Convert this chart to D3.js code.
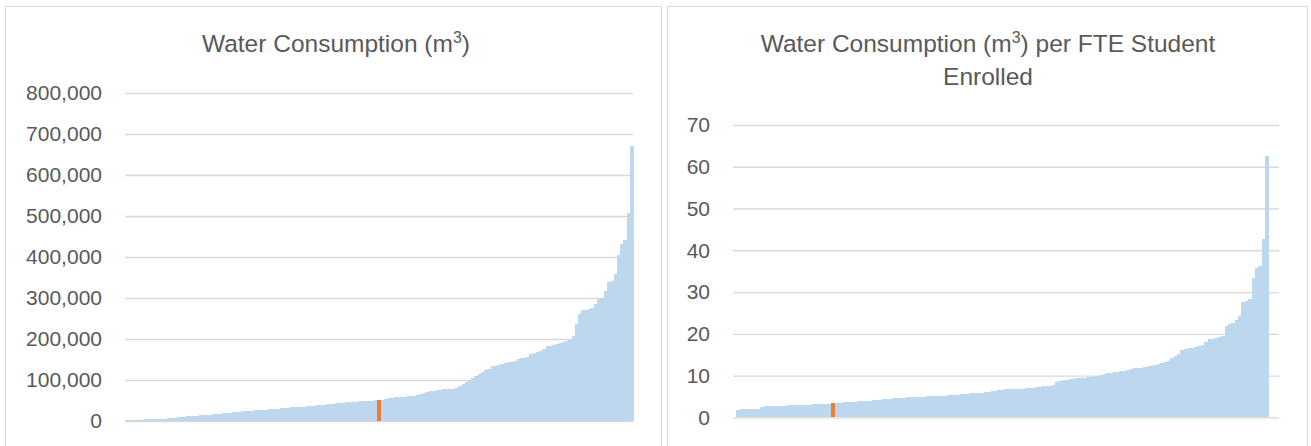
<!DOCTYPE html>
<html lang="en">
<head>
<meta charset="utf-8">
<title>Water Consumption</title>
<script src="https://cdn.jsdelivr.net/npm/d3@7/dist/d3.min.js"></script>
<style type="text/css">
  body {
    margin: 0;
    background-color: #ffffff;
  }
  .panel_border {
    fill: none;
    stroke: #d9d9d9;
    stroke-width: 1;
  }
  .chart_title {
    font-family: "Liberation Sans", Arial, sans-serif;
    font-size: 24.5px;
    fill: #595959;
    text-anchor: middle;
  }
  .grid line {
    stroke: #d9d9d9;
    stroke-width: 1.3;
  }
  .grid text {
    font-family: "Liberation Sans", Arial, sans-serif;
    font-size: 21px;
    fill: #595959;
  }
  .bar {
    shape-rendering: crispEdges;
  }
</style>
</head>
<body>
<script type="text/javascript">
// sorted water consumption per institution (m3)
var waterTotal = [
  2500, 2700, 2900, 3100, 3300, 3500, 3700, 3900, 4200, 4400, 4700, 5000,
  5500, 6200, 7000, 7800, 8600, 9500,
  10500, 11200, 11800, 12400, 13000, 13600, 14200, 14800, 15400, 16000,
  17000, 17800, 18600, 19400, 20200, 21000, 21800, 22600, 23400, 24000, 24700, 25300, 26000,
  26700, 27300, 27900, 28500, 29100, 29700, 30300, 30900, 31500, 32500,
  33000, 33500, 34000, 34500, 35000, 35500, 36000,
  37000, 38000, 39000, 40000, 41000, 41500, 42000,
  43000, 44000, 45000, 46000,
  46500, 47000, 47500, 48000, 48500, 49000, 49500, 50000, 50500, 51000,
  52000, 53500, 55000,
  57000, 58000, 58500, 59000, 59500, 60000, 61000, 62000,
  64000, 66000, 68000, 70000, 72000, 74000,
  75500, 76500, 77000, 77500, 78000, 78500, 79500,
  85000, 91000, 95000, 101000, 105000, 109000, 115000, 120000, 124000, 127000,
  133000, 135000, 136000, 140000, 141000, 143000, 145000, 146000, 151000, 153000,
  154000, 155000, 164000, 166000, 168000, 170000, 175000, 182000, 184000, 186000,
  188000, 191000, 193000, 195000, 201000, 207000, 237000, 262000, 270000, 271000,
  274000, 276000, 285000, 298000, 300000, 318000, 340000, 341000, 359000, 404000,
  432000, 442000, 508000, 671000
];

// sorted water consumption per FTE student (m3)
var waterPerFte = [
  1.85, 1.88, 1.9, 1.92, 1.95, 1.98, 2.0,
  2.55, 2.6, 2.65, 2.7, 2.72, 2.75, 2.78, 2.8, 2.83, 2.86,
  2.9, 2.93, 2.96, 3.0, 3.03, 3.07, 3.1, 3.15, 3.2, 3.25, 3.3,
  3.35,
  3.45, 3.5, 3.55, 3.6, 3.65, 3.7, 3.75, 3.8, 3.85, 3.9, 4.0,
  4.05, 4.1, 4.2, 4.3, 4.4, 4.45, 4.55,
  4.6, 4.65, 4.7, 4.75, 4.8, 4.85, 4.9, 4.92, 4.95,
  5.0, 5.05, 5.1, 5.15, 5.2, 5.22, 5.25, 5.3, 5.35,
  5.4, 5.5, 5.55, 5.6, 5.7, 5.75, 5.8, 5.9,
  6.0, 6.1, 6.2, 6.35, 6.5, 6.6,
  6.7, 6.75, 6.8, 6.82, 6.85, 6.88, 6.9, 6.95,
  7.05, 7.15, 7.3, 7.4, 7.5, 7.6, 7.75,
  8.4, 8.6, 8.9,
  9.0, 9.1, 9.2, 9.3, 9.4, 9.5,
  9.6, 9.7, 9.85, 10.0, 10.1,
  10.3, 10.5, 10.6, 10.8,
  10.9, 11.0, 11.2, 11.3, 11.5, 11.7,
  11.8, 11.9, 12.0, 12.2, 12.4,
  12.5, 12.7, 12.9, 13.2, 13.6,
  14.1, 14.7, 15.2, 16.0, 16.3, 16.5, 16.7, 16.9, 17.0, 17.2,
  18.1, 18.7, 18.8, 18.9, 19.2, 19.5, 21.9, 22.3, 22.7, 23.2,
  24.3, 27.5, 27.8, 28.3, 33.4, 35.7, 36.2, 42.6, 62.6
];

// position of our own institution in each sorted list
var highlightTotal = 78;
var highlightFte = 28;

var totalTicks = [0, 100000, 200000, 300000, 400000, 500000, 600000, 700000, 800000];
var fteTicks = [0, 10, 20, 30, 40, 50, 60, 70];

var svgWidth = 1311;
var svgHeight = 446;
var barColor = "#bdd7ee";
var highlightColor = "#ed7d31";

var svg = d3.select("body")
  .append("svg")
  .attr("width", svgWidth)
  .attr("height", svgHeight);

// panel frames
svg.append("rect").attr("class", "panel_border")
  .attr("x", 5.5).attr("y", 6.5).attr("width", 656).attr("height", 460);
svg.append("rect").attr("class", "panel_border")
  .attr("x", 667.5).attr("y", 6.5).attr("width", 640).attr("height", 460);

// title with superscript, split over lines
function drawTitle(cx, lines) {
  lines.forEach(function(line, i) {
    var t = svg.append("text")
      .attr("class", "chart_title")
      .attr("x", cx)
      .attr("y", 52 + i * 33);
    var shift = 0;
    line.forEach(function(part) {
      if (part.sup) {
        t.append("tspan").attr("dy", -9).style("font-size", "16px").text(part.sup);
        shift = 9;
      } else {
        t.append("tspan").attr("dy", shift).text(part.text);
        shift = 0;
      }
    });
  });
}

function drawPanel(opt) {
  var y = d3.scaleLinear()
    .domain([0, d3.max(opt.ticks)])
    .range([opt.y0, opt.y1]);

  var x = d3.scaleBand()
    .domain(d3.range(opt.data.length))
    .range([opt.x0, opt.x1])
    .paddingInner(0)
    .paddingOuter(opt.padOuter)
    .align(opt.align);

  var grid = svg.append("g")
    .attr("class", "grid")
    .attr("transform", "translate(" + opt.x0 + ",0)")
    .call(d3.axisLeft(y)
      .tickValues(opt.ticks)
      .tickFormat(opt.format)
      .tickSize(-(opt.x1 - opt.x0))
      .tickPadding(23));
  grid.select(".domain").remove();

  svg.append("g")
    .selectAll("rect")
    .data(opt.data)
    .enter()
    .append("rect")
    .attr("class", "bar")
    .attr("x", function(d, i) { return x(i); })
    .attr("y", function(d) { return y(d); })
    .attr("width", x.bandwidth() + 0.6)
    .attr("height", function(d) { return y(0) - y(d); })
    .attr("fill", barColor);

  // our institution, drawn on top of its neighbours
  svg.append("rect")
    .attr("class", "bar")
    .attr("x", x(opt.highlight))
    .attr("y", y(opt.data[opt.highlight]))
    .attr("width", x.bandwidth() + 0.4)
    .attr("height", y(0) - y(opt.data[opt.highlight]))
    .attr("fill", highlightColor);
}

drawTitle(336, [[{text: "Water Consumption (m"}, {sup: "3"}, {text: ")"}]]);
drawTitle(988, [
  [{text: "Water Consumption (m"}, {sup: "3"}, {text: ") per FTE Student"}],
  [{text: "Enrolled"}]
]);

drawPanel({
  data: waterTotal, highlight: highlightTotal, ticks: totalTicks,
  format: d3.format(","),
  x0: 125, x1: 633, y0: 421, y1: 93,
  padOuter: 0, align: 0.5
});

drawPanel({
  data: waterPerFte, highlight: highlightFte, ticks: fteTicks,
  format: d3.format("d"),
  x0: 733, x1: 1279, y0: 417.3, y1: 125,
  padOuter: 2.05, align: 0.25
});
</script>
</body>
</html>
